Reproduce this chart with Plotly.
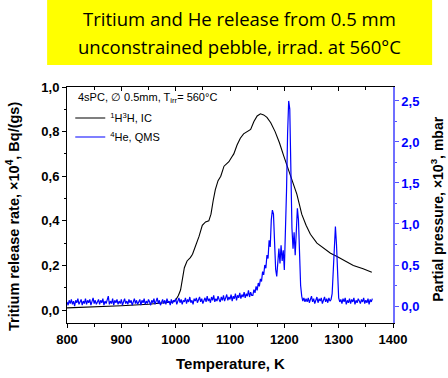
import plotly.graph_objects as go

# ---- Data ----
# Tritium release rate (x10^4 Bq/(gs)), left axis
t_T = [800, 850, 900, 950, 980, 995, 1000, 1005, 1009, 1013, 1016, 1021, 1027, 1031, 1037,
       1043, 1049, 1055, 1061, 1065, 1069, 1073, 1078, 1083, 1089, 1094, 1098, 1103, 1107,
       1113, 1119, 1125, 1132, 1138, 1144, 1150, 1156, 1162, 1168, 1175, 1183, 1191, 1199,
       1205, 1211, 1217, 1223, 1228, 1232, 1240, 1248, 1260, 1272, 1285, 1297, 1312, 1327,
       1345, 1361]
tritium = [0.010, 0.014, 0.019, 0.026, 0.031, 0.036, 0.045, 0.065, 0.09, 0.15, 0.19, 0.22,
           0.235, 0.25, 0.29, 0.33, 0.38, 0.395, 0.40, 0.43, 0.49, 0.54, 0.58, 0.60, 0.645,
           0.658, 0.665, 0.685, 0.70, 0.74, 0.77, 0.79, 0.80, 0.81, 0.845, 0.87, 0.88, 0.875,
           0.864, 0.84, 0.80, 0.75, 0.69, 0.645, 0.605, 0.565, 0.52, 0.47, 0.43, 0.38, 0.34,
           0.30, 0.277, 0.255, 0.24, 0.22, 0.20, 0.185, 0.17]

# 4He partial pressure (x10^3 mbar), right axis
he_T = (list(range(800, 1141, 2)) + list(range(1142, 1241, 2)) + list(range(1242, 1285, 2))
        + list(range(1286, 1303, 2)) + list(range(1304, 1363, 2)))
helium = (
    [0.05, 0.01, 0.07, 0.03, 0.08, 0.02, 0.06, 0.00, 0.07, 0.04,
     0.09, 0.02, 0.05, 0.08, 0.01, 0.06, 0.03, 0.09, 0.02, 0.07,
     0.04, 0.08, 0.01, 0.06, 0.10, 0.03, 0.07, 0.02, 0.05, 0.08,
     0.02, 0.07, 0.04, 0.09, 0.01, 0.06, 0.03, 0.08, 0.12, 0.02,
     0.06, 0.03, 0.09, 0.01, 0.07, 0.04, 0.08, 0.02, 0.06, 0.03,
     0.08, 0.01, 0.05, 0.09, 0.03, 0.06, 0.02, 0.08, 0.04, 0.07,
     0.01, 0.06, 0.09, 0.03, 0.07, 0.02, 0.05, 0.08, 0.01, 0.07,
     0.04, 0.09, 0.02, 0.06, 0.03, 0.08, 0.05, 0.01, 0.07, 0.04,
     0.09, 0.02, 0.06, 0.10, 0.03, 0.07, 0.01, 0.06, 0.08, 0.03,
     0.07, 0.02, 0.09, 0.04, 0.06, 0.01, 0.08, 0.03, 0.07, 0.05,
     0.09, 0.02, 0.06, 0.10, 0.04, 0.08, 0.02, 0.07, 0.05, 0.10,
     0.03, 0.08, 0.05, 0.11, 0.04, 0.07, 0.02, 0.09, 0.06, 0.10,
     0.04, 0.08, 0.11, 0.05, 0.09, 0.03, 0.07, 0.10, 0.05, 0.12,
     0.06, 0.09, 0.04, 0.11, 0.07, 0.13, 0.05, 0.09, 0.06, 0.12,
     0.08, 0.05, 0.11, 0.07, 0.13, 0.06, 0.10, 0.14, 0.07, 0.11,
     0.08, 0.14, 0.06, 0.12, 0.09, 0.15, 0.07, 0.13, 0.10, 0.16,
     0.09, 0.14, 0.11, 0.17, 0.10, 0.15, 0.12, 0.19, 0.11, 0.17,
     0.13]
    + [0.13, 0.20, 0.16, 0.24, 0.19, 0.28, 0.24, 0.33, 0.30, 0.42, 0.38, 0.50, 0.46, 0.62, 0.58,
       0.80, 0.72, 1.05, 1.17, 1.12, 0.75, 0.45, 0.36, 0.55, 0.70, 0.52, 0.74, 0.55, 0.68, 0.44,
       0.85, 1.40, 2.10, 2.50, 2.40, 1.60, 0.95, 0.70, 0.90, 0.62, 0.95, 1.19, 1.05, 0.60, 0.25,
       0.12, 0.06, 0.10, 0.05, 0.09]
    + [0.05, 0.10, 0.04, 0.08, 0.12, 0.05, 0.09, 0.03, 0.08, 0.11, 0.04,
       0.09, 0.06, 0.10, 0.03, 0.08, 0.11, 0.05, 0.09, 0.04, 0.10, 0.06]
    + [0.08, 0.15, 0.45, 0.85, 0.97, 0.75, 0.30, 0.10, 0.05]
    + [0.08, 0.03, 0.09, 0.05, 0.10, 0.02, 0.07, 0.04, 0.09, 0.03,
       0.08, 0.05, 0.10, 0.02, 0.07, 0.04, 0.09, 0.06, 0.03, 0.08,
       0.05, 0.10, 0.03, 0.07, 0.04, 0.09, 0.02, 0.08, 0.05, 0.09]
)

x_ticks = [800, 900, 1000, 1100, 1200, 1300, 1400]
left_ticks = [0.0, 0.2, 0.4, 0.6, 0.8, 1.0]
right_ticks = [0.0, 0.5, 1.0, 1.5, 2.0, 2.5]

title_lines = ["Tritium and He release from 0.5 mm", "unconstrained pebble, irrad. at 560°C"]

AX = "Liberation Sans"
BLUE = "#0000ff"

fig = go.Figure()
fig.add_trace(go.Scatter(x=t_T, y=tritium, mode="lines", name="<sup>1</sup>H<sup>3</sup>H, IC",
                         line=dict(color="black", width=1.1), yaxis="y"))
fig.add_trace(go.Scatter(x=he_T, y=helium, mode="lines", name="<sup>4</sup>He, QMS",
                         line=dict(color=BLUE, width=1.2), yaxis="y2"))
# helper trace so the top (inward-tick) axis is drawn
fig.add_trace(go.Scatter(x=[None], y=[None], xaxis="x2", yaxis="y", showlegend=False,
                         hoverinfo="skip"))

tickfont = dict(family=AX, size=13, color="black", weight="bold")

fig.update_layout(
    width=448, height=378,
    margin=dict(l=67, r=55, t=87, b=55),
    paper_bgcolor="white", plot_bgcolor="white",
    separators=",.",
    showlegend=True,
    legend=dict(x=0.01, y=0.93, xanchor="left", yanchor="top", bgcolor="rgba(0,0,0,0)",
                font=dict(family=AX, size=11, color="black"), itemwidth=30,
                tracegroupgap=0),
    xaxis=dict(range=[800, 1400], tickvals=x_ticks, ticks="outside", ticklen=4,
               tickcolor="black", showline=True, linecolor="black", linewidth=1,
               showgrid=False, zeroline=False, tickfont=tickfont,
               minor=dict(ticks="outside", dtick=50, ticklen=2.5, tickcolor="black")),
    xaxis2=dict(range=[800, 1400], overlaying="x", side="top", anchor="y",
                tickvals=x_ticks, ticks="inside", ticklen=4, tickcolor="black",
                showticklabels=False, showline=True, linecolor="black", linewidth=1,
                showgrid=False, zeroline=False,
                minor=dict(ticks="inside", dtick=50, ticklen=2.5, tickcolor="black")),
    yaxis=dict(range=[-0.058, 1.0], tickvals=left_ticks, tickformat=".1f", ticks="outside",
               ticklen=4, tickcolor="black", showline=True, linecolor="black", linewidth=1,
               showgrid=False, zeroline=False, tickfont=tickfont,
               minor=dict(ticks="outside", dtick=0.1, ticklen=2.5, tickcolor="black")),
    yaxis2=dict(range=[-0.207, 2.67], overlaying="y", side="right", anchor="x",
                tickvals=right_ticks, tickformat=".1f", ticks="outside", ticklen=4,
                tickcolor="#5555ff", showline=True, linecolor="#6f6fff", linewidth=1.5,
                showgrid=False, zeroline=False,
                tickfont=dict(family=AX, size=13, color=BLUE, weight="bold"),
                minor=dict(ticks="outside", dtick=0.25, ticklen=2.5, tickcolor="#5555ff")),
)

# Yellow title box
fig.add_shape(type="rect", xref="paper", yref="paper", x0=-0.061, x1=1.12, y0=1.093, y1=1.37,
              fillcolor="#ffff00", line=dict(width=0), layer="below")
fig.add_annotation(xref="paper", yref="paper", x=0.529, y=1.292, xanchor="center",
                   yanchor="middle", text=title_lines[0], showarrow=False,
                   font=dict(family="Open Sans", size=18.5, color="black"))
fig.add_annotation(xref="paper", yref="paper", x=0.529, y=1.172, xanchor="center",
                   yanchor="middle", text=title_lines[1], showarrow=False,
                   font=dict(family="Open Sans", size=18.5, color="black"))

# Inset label
fig.add_annotation(xref="paper", yref="paper", x=0.028, y=0.955, xanchor="left", yanchor="middle",
                   text="4sPC, ∅ 0.5mm, T<sub>irr</sub>= 560°C", showarrow=False,
                   font=dict(family=AX, size=11, color="black"))

# Axis titles
fig.add_annotation(xref="paper", yref="paper", x=0.5, y=-0.17, xanchor="center",
                   yanchor="middle", text="Temperature, K", showarrow=False,
                   font=dict(family=AX, size=15, color="black", weight="bold"))
fig.add_annotation(xref="paper", yref="paper", x=-0.165, y=0.45, xanchor="center",
                   yanchor="middle", textangle=-90,
                   text="Tritium release rate, ×10<sup>4</sup>, Bq/(gs)", showarrow=False,
                   font=dict(family=AX, size=14.5, color="black", weight="bold"))
fig.add_annotation(xref="paper", yref="paper", x=1.135, y=0.48, xanchor="center",
                   yanchor="middle", textangle=-90,
                   text="Partial pressure, ×10<sup>3</sup>, mbar", showarrow=False,
                   font=dict(family=AX, size=14, color="black", weight="bold"))

fig.write_html("out.html")
